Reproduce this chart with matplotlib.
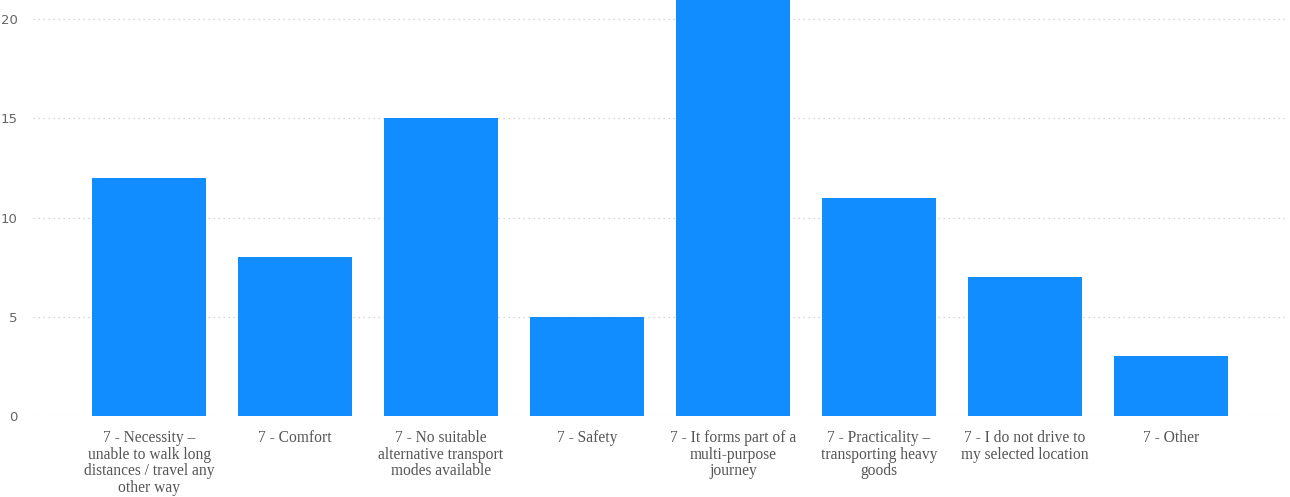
import matplotlib
matplotlib.use('Agg')
import matplotlib.pyplot as plt

# data
categories = [
    '7 - Necessity –\nunable to walk long\ndistances / travel any\nother way',
    '7 - Comfort',
    '7 - No suitable\nalternative transport\nmodes available',
    '7 - Safety',
    '7 - It forms part of a\nmulti-purpose\njourney',
    '7 - Practicality –\ntransporting heavy\ngoods',
    '7 - I do not drive to\nmy selected location',
    '7 - Other',
]
counts = [12, 8, 15, 5, 21, 11, 7, 3]
yticks = [0, 5, 10, 15, 20]

fig = plt.figure(figsize=(12.9, 4.97), dpi=100)
ax = fig.add_axes([33/1290, 81/497, 1254/1290, 416/497])

x = list(range(len(categories)))
ax.bar(x, counts, width=0.78, color='#118DFF', zorder=2)

ax.set_xlim(-0.795, len(categories) - 1 + 0.795)
ax.set_ylim(0, 20.96)
ax.set_yticks(yticks)
ax.set_yticklabels([str(v) for v in yticks], fontsize=9.5, color='#666666',
                   family='DejaVu Sans')
ax.set_xticks(x)
ax.set_xticklabels(categories, fontsize=11.2, color='#555555',
                   family='Liberation Serif', linespacing=1.06, va='top')
ax.tick_params(axis='both', length=0)
ax.tick_params(axis='x', pad=10)
ax.tick_params(axis='y', pad=11)

ax.grid(axis='y', color='#c8c8c8', linestyle=(0, (1, 3)), linewidth=0.9, zorder=0)
for s in ax.spines.values():
    s.set_visible(False)

fig.savefig('out.png', dpi=100)
